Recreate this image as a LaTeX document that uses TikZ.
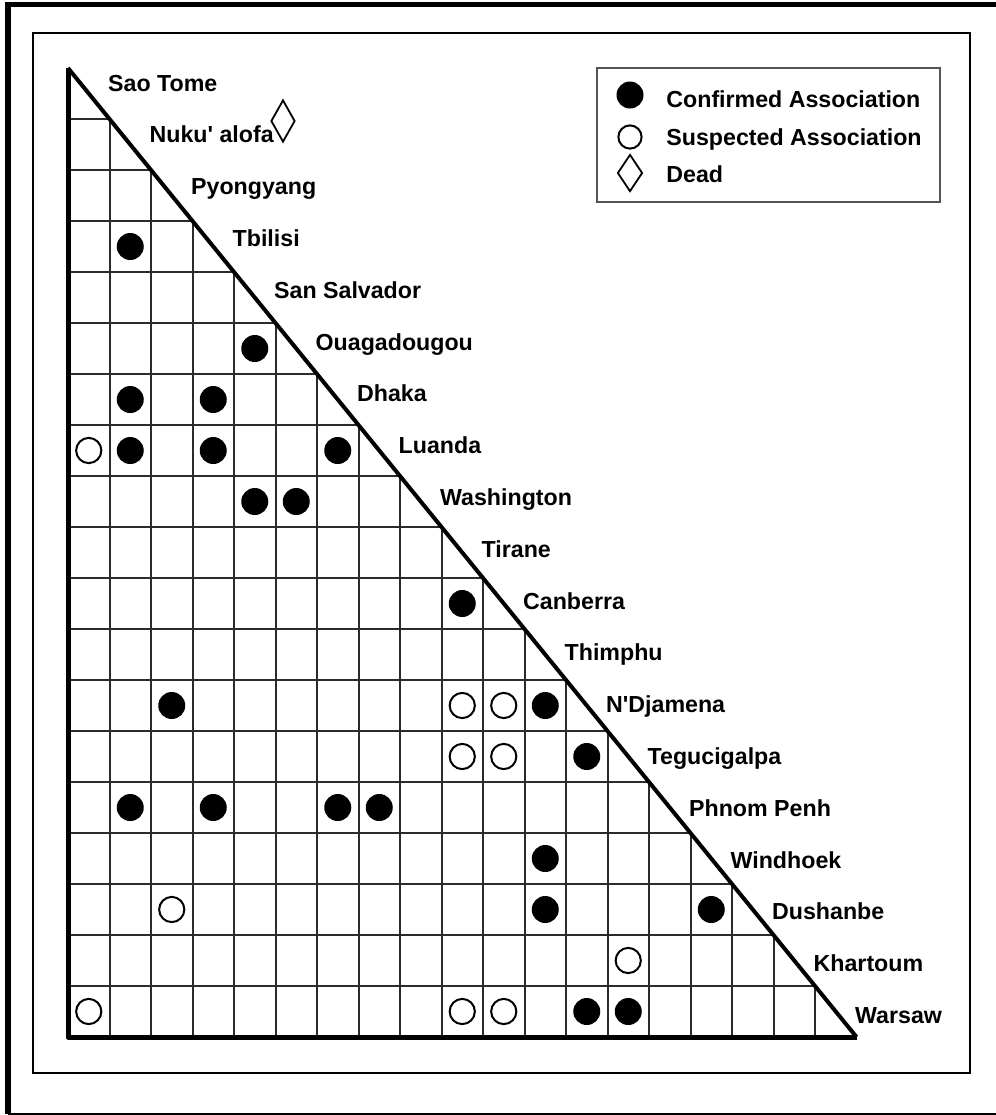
\documentclass[tikz,border=0pt]{standalone}
\usepackage{fontspec}
\setmainfont{Liberation Sans}[Ligatures=TeXOff]
\usetikzlibrary{shapes.geometric}
\definecolor{gridgray}{HTML}{2B2B2B}
\definecolor{framegray}{HTML}{555555}

\begin{document}
\begin{tikzpicture}[
    x=0.5pt, y=-0.5pt,
    font=\bfseries\fontsize{11.6}{13}\selectfont,
    gridline/.style={draw=gridgray, line width=1pt},
    edge/.style={line width=2.5pt, line join=round},
    full/.style={circle, fill=black, inner sep=0pt, minimum size=13.5pt},
    ring/.style={circle, draw=black, fill=white, line width=1pt, inner sep=0pt, minimum size=12.6pt},
    dead/.style={diamond, draw=black, fill=white, line width=0.9pt, inner sep=0pt, minimum width=12pt, minimum height=20pt},
    city/.style={anchor=base west, inner sep=0pt}
  ]
    \useasboundingbox (0,0) rectangle (996,1115);
    \draw[line width=2.5pt] (5,4.5) -- (996,4.5);
    \draw[line width=3pt] (8,2) -- (8,1114);
    \draw[line width=1pt] (8,1113.5) -- (996,1113.5);
    \draw[line width=1.2pt] (33,33) rectangle (970,1073);

    \begin{scope}[shift={(68,68)}, x=20.75pt, y=-25.5pt]
      \foreach \k in {1,...,18} {
        \draw[gridline] (0,\k) -- (\k,\k);
        \draw[gridline] (\k,\k) -- (\k,19);
      }
      \draw[edge] (0,0) -- (0,19) -- (19,19);
      \draw[line width=2pt] (0,0) -- (19,19);

      \foreach \r/\c in {4/2, 6/5, 7/2, 7/4, 8/2, 8/4, 8/7, 9/5, 9/6, 11/10, 13/3, 13/12, 14/13,
                         15/2, 15/4, 15/7, 15/8, 16/12, 17/12, 17/16, 19/13, 19/14}
        \node[full] (f\r-\c) at (\c-0.5,\r-0.5) {};
      \foreach \r/\c in {8/1, 13/10, 13/11, 14/10, 14/11, 17/3, 18/14, 19/1, 19/10, 19/11}
        \node[ring] (s\r-\c) at (\c-0.5,\r-0.5) {};
    \end{scope}

    \foreach \name [count=\r] in {Sao Tome, Nuku' alofa, Pyongyang, Tbilisi, San Salvador,
        Ouagadougou, Dhaka, Luanda, Washington, Tirane, Canberra, Thimphu, N'Djamena,
        Tegucigalpa, Phnom Penh, Windhoek, Dushanbe, Khartoum, Warsaw}
      \node[city] (city\r) at ({87+41.5*(\r-0.5)}, {91+51.8*(\r-1)}) {\name};

    \node[dead, minimum height=21pt] (nukudead) at (283,121) {};

    \draw[line width=1pt, draw=framegray] (597,68) rectangle (940,202);
    \node[full] (keyfull) at (630,95) {};
    \node[ring, minimum size=11.6pt] (keyring) at (630,137) {};
    \node[dead, minimum width=12.5pt, minimum height=18.5pt] (keydead) at (630,173) {};
    \node[city] (keyfulltext) at (666,107) {Confirmed Association};
    \node[city] (keyringtext) at (666,145) {Suspected Association};
    \node[city] (keydeadtext) at (666,182) {Dead};
  \end{tikzpicture}
\end{document}
